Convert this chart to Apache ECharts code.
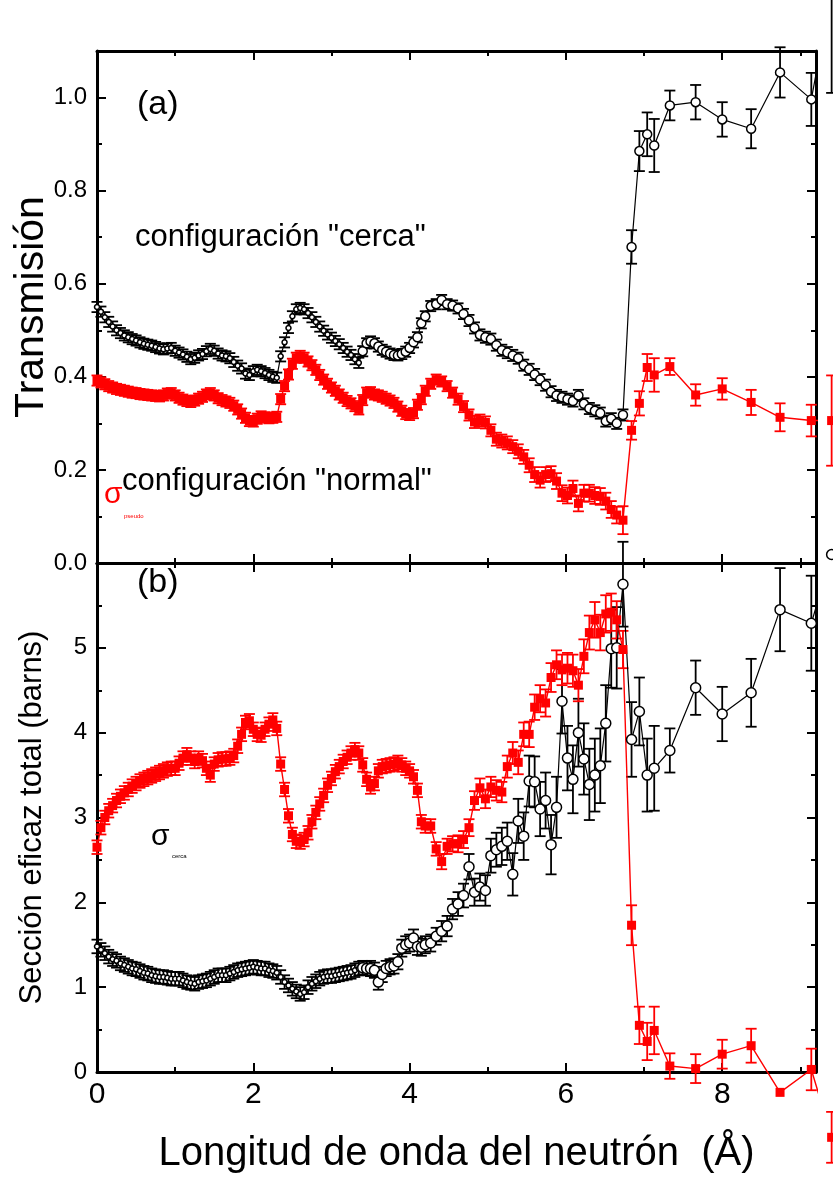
<!DOCTYPE html>
<html>
<head>
<meta charset="utf-8">
<script src="https://cdn.jsdelivr.net/npm/echarts@6/dist/echarts.min.js"></script>
<style>
html,body{margin:0;padding:0;background:#fff;}
#chart{width:833px;height:1187px;}
</style>
</head>
<body>
<div id="chart"></div>
<script>
// ---- wavelength (Å), three sampling regions ----
const wlA = [0.00,0.05,0.10,0.15,0.20,0.25,0.30,0.35,0.40,0.45,
             0.50,0.55,0.60,0.65,0.70,0.75,0.80,0.85,0.90,0.95,
             1.00,1.05,1.10,1.15,1.20,1.25,1.30,1.35,1.40,1.45,
             1.50,1.55,1.60,1.65,1.70,1.75,1.80,1.85,1.90,1.95,
             2.00,2.05,2.10,2.15,2.20,2.25,2.30,2.35,2.40,2.45,
             2.50,2.55,2.60,2.65,2.70,2.75,2.80,2.85,2.90,2.95,
             3.00,3.05,3.10,3.15,3.20,3.25,3.30,3.35,3.40,3.45,
             3.50,3.55,3.60,3.65,3.70,3.75,3.80,3.85,3.90,3.95,
             4.00,4.05,4.10,4.15,4.20];
const wlB = [4.27,4.34,4.41,4.48,4.55,4.62,4.69,4.76,4.83,4.90,
             4.97,5.04,5.11,5.18,5.25,5.32,5.39,5.46,5.53,5.60,
             5.67,5.74,5.81,5.88,5.95,6.02,6.09,6.16,6.23,6.30,
             6.37,6.44,6.51,6.58,6.65,6.73];
const wlC = [6.84,6.94,7.04,7.13,7.33,7.66,8.00,8.37,8.74,9.14,9.40];

// ---- (a) Transmission, configuración "cerca" ----
const trCercaA = [0.550,0.540,0.528,0.518,0.508,0.500,0.494,0.489,0.485,0.481,
                  0.478,0.474,0.471,0.469,0.467,0.464,0.461,0.459,0.461,0.462,
                  0.456,0.452,0.448,0.443,0.438,0.441,0.446,0.449,0.455,0.460,
                  0.456,0.450,0.446,0.444,0.440,0.432,0.424,0.418,0.407,0.404,
                  0.412,0.415,0.412,0.408,0.404,0.400,0.398,0.444,0.474,0.505,
                  0.530,0.545,0.548,0.545,0.537,0.528,0.518,0.508,0.499,0.491,
                  0.484,0.477,0.470,0.462,0.454,0.447,0.438,0.430,0.455,0.472,
                  0.476,0.472,0.465,0.458,0.454,0.450,0.447,0.446,0.449,0.454,
                  0.462,0.474,0.485,0.515,0.530];
const trCercaB = [0.552,0.556,0.565,0.556,0.553,0.547,0.535,0.521,0.505,0.490,
                  0.485,0.481,0.468,0.457,0.452,0.446,0.440,0.425,0.416,0.405,
                  0.394,0.382,0.368,0.360,0.356,0.352,0.348,0.360,0.342,0.332,
                  0.327,0.322,0.305,0.310,0.300,0.318];
const trCercaC = [0.679,0.885,0.921,0.897,0.983,0.990,0.953,0.933,1.054,0.996,1.230];
const errTrCercaA = [0.011,0.011,0.011,0.011,0.011,0.011,0.011,0.011,0.011,0.011,
                     0.011,0.011,0.011,0.011,0.011,0.011,0.011,0.011,0.011,0.011,
                     0.011,0.011,0.011,0.011,0.011,0.011,0.011,0.011,0.011,0.011,
                     0.011,0.011,0.011,0.011,0.011,0.011,0.011,0.011,0.011,0.011,
                     0.011,0.011,0.011,0.011,0.011,0.011,0.011,0.011,0.011,0.011,
                     0.011,0.011,0.011,0.011,0.011,0.011,0.011,0.011,0.011,0.011,
                     0.011,0.011,0.011,0.011,0.011,0.011,0.011,0.011,0.011,0.011,
                     0.011,0.011,0.011,0.011,0.011,0.011,0.011,0.011,0.011,0.011,
                     0.011,0.011,0.011,0.011,0.011];
const errTrCercaB = [0.011,0.011,0.011,0.011,0.011,0.011,0.011,0.012,0.012,0.012,
                     0.012,0.012,0.012,0.012,0.012,0.012,0.012,0.012,0.012,0.012,
                     0.012,0.012,0.012,0.012,0.012,0.012,0.012,0.012,0.012,0.012,
                     0.012,0.012,0.012,0.012,0.012,0.012];
const errTrCercaC = [0.036,0.043,0.047,0.057,0.032,0.037,0.037,0.042,0.054,0.057,0.220];

// ---- (a) Transmission, configuración "normal" ----
const trNormalA = [0.392,0.388,0.384,0.380,0.377,0.374,0.372,0.370,0.368,0.366,
                   0.365,0.363,0.362,0.361,0.360,0.359,0.358,0.360,0.364,0.365,
                   0.360,0.355,0.351,0.348,0.346,0.349,0.353,0.357,0.362,0.365,
                   0.360,0.354,0.350,0.347,0.344,0.338,0.330,0.321,0.312,0.305,
                   0.304,0.310,0.315,0.313,0.311,0.312,0.314,0.352,0.380,0.405,
                   0.428,0.441,0.445,0.441,0.433,0.425,0.415,0.404,0.394,0.385,
                   0.377,0.370,0.362,0.355,0.348,0.343,0.337,0.330,0.350,0.366,
                   0.367,0.362,0.360,0.357,0.353,0.349,0.344,0.336,0.327,0.320,
                   0.318,0.322,0.340,0.352,0.370];
const trNormalB = [0.385,0.394,0.390,0.380,0.366,0.352,0.336,0.318,0.303,0.306,
                   0.302,0.285,0.266,0.262,0.258,0.250,0.240,0.228,0.210,0.190,
                   0.178,0.190,0.192,0.176,0.150,0.145,0.160,0.128,0.150,0.150,
                   0.145,0.143,0.133,0.115,0.103,0.092];
const trNormalC = [0.285,0.343,0.420,0.404,0.422,0.361,0.374,0.345,0.313,0.306,0.306];
const errTrNormalA = [0.011,0.011,0.011,0.011,0.011,0.011,0.011,0.011,0.011,0.011,
                      0.011,0.011,0.011,0.011,0.011,0.011,0.011,0.011,0.011,0.011,
                      0.011,0.011,0.011,0.011,0.011,0.011,0.011,0.011,0.011,0.011,
                      0.011,0.011,0.011,0.011,0.011,0.011,0.011,0.011,0.011,0.011,
                      0.011,0.011,0.011,0.011,0.011,0.011,0.011,0.011,0.011,0.011,
                      0.011,0.011,0.011,0.011,0.011,0.011,0.011,0.011,0.011,0.011,
                      0.011,0.011,0.011,0.011,0.011,0.011,0.011,0.011,0.011,0.011,
                      0.011,0.011,0.011,0.011,0.011,0.011,0.011,0.011,0.011,0.011,
                      0.011,0.011,0.011,0.011,0.011];
const errTrNormalB = [0.011,0.011,0.011,0.011,0.011,0.012,0.012,0.012,0.013,0.013,
                      0.013,0.013,0.014,0.014,0.014,0.014,0.015,0.015,0.015,0.016,
                      0.016,0.016,0.016,0.017,0.017,0.017,0.017,0.017,0.018,0.018,
                      0.018,0.018,0.018,0.018,0.018,0.030];
const errTrNormalC = [0.020,0.026,0.029,0.036,0.018,0.023,0.023,0.027,0.030,0.034,0.097];

// ---- (b) Total cross section (barns), "cerca" ----
const sgCercaA = [1.48,1.44,1.40,1.36,1.33,1.31,1.28,1.26,1.24,1.22,
                  1.21,1.19,1.17,1.16,1.14,1.13,1.12,1.12,1.11,1.10,
                  1.10,1.10,1.08,1.06,1.05,1.04,1.06,1.07,1.08,1.10,
                  1.12,1.14,1.14,1.14,1.16,1.18,1.20,1.21,1.22,1.23,
                  1.24,1.23,1.22,1.22,1.20,1.19,1.17,1.12,1.06,1.02,
                  0.98,0.95,0.92,0.94,1.00,1.04,1.07,1.10,1.12,1.13,
                  1.13,1.14,1.15,1.16,1.17,1.18,1.20,1.22,1.23,1.22,
                  1.22,1.20,1.06,1.15,1.22,1.24,1.25,1.30,1.46,1.50,
                  1.52,1.58,1.48,1.47,1.50];
const sgCercaB = [1.52,1.60,1.66,1.72,1.92,1.98,2.08,2.42,2.12,2.18,
                  2.14,2.55,2.62,2.66,2.72,2.33,2.96,2.78,3.43,3.42,
                  3.10,3.20,2.68,3.12,4.37,3.70,3.45,4.00,3.69,3.39,
                  3.50,3.61,4.11,4.99,5.00,5.75];
const sgCercaC = [3.92,4.25,3.50,3.58,3.79,4.53,4.22,4.47,5.45,5.29,6.10];
const errSgCercaA = [0.08,0.08,0.08,0.08,0.08,0.08,0.08,0.08,0.08,0.08,
                     0.08,0.08,0.08,0.08,0.08,0.08,0.08,0.08,0.08,0.08,
                     0.08,0.08,0.08,0.08,0.08,0.08,0.08,0.08,0.08,0.08,
                     0.08,0.08,0.08,0.08,0.08,0.08,0.08,0.08,0.08,0.08,
                     0.08,0.08,0.08,0.08,0.08,0.08,0.08,0.08,0.08,0.08,
                     0.08,0.08,0.08,0.08,0.08,0.08,0.08,0.08,0.08,0.08,
                     0.08,0.08,0.08,0.08,0.08,0.08,0.08,0.08,0.08,0.08,
                     0.09,0.09,0.09,0.09,0.09,0.09,0.09,0.09,0.10,0.10,
                     0.10,0.10,0.10,0.10,0.10];
const errSgCercaB = [0.10,0.10,0.12,0.12,0.12,0.14,0.14,0.15,0.16,0.16,
                     0.18,0.20,0.20,0.22,0.22,0.25,0.26,0.28,0.30,0.30,
                     0.32,0.33,0.35,0.36,0.38,0.38,0.40,0.40,0.42,0.42,
                     0.43,0.44,0.45,0.46,0.48,0.50];
const errSgCercaC = [0.44,0.40,0.43,0.50,0.26,0.32,0.32,0.40,0.49,0.56,0];

// ---- (b) Total cross section (barns), "normal" ----
const sgNormalA = [2.65,2.88,3.00,3.08,3.14,3.20,3.25,3.29,3.33,3.37,
                   3.40,3.43,3.45,3.47,3.49,3.51,3.53,3.55,3.57,3.58,
                   3.58,3.64,3.70,3.74,3.70,3.66,3.70,3.67,3.58,3.50,
                   3.63,3.68,3.69,3.69,3.70,3.73,3.84,3.98,4.12,4.14,
                   4.04,3.98,3.97,4.04,4.10,4.15,4.05,3.63,3.33,3.02,
                   2.80,2.72,2.71,2.74,2.82,2.95,3.06,3.16,3.26,3.38,
                   3.46,3.54,3.60,3.66,3.71,3.76,3.80,3.76,3.62,3.45,
                   3.36,3.40,3.55,3.60,3.61,3.62,3.63,3.65,3.62,3.58,
                   3.55,3.48,3.32,2.95,2.90];
const sgNormalB = [2.90,2.63,2.48,2.66,2.69,2.69,2.74,2.88,3.20,3.35,
                   3.22,3.36,3.32,3.30,3.60,3.76,3.65,3.98,3.98,4.30,
                   4.40,4.35,4.65,4.80,4.74,4.76,4.73,4.56,4.90,5.18,
                   5.33,5.18,5.40,5.42,5.33,4.98];
const sgNormalC = [1.73,0.55,0.36,0.49,0.07,0.04,0.21,0.31,-0.24,0.03,-0.77];
const errSgNormalA = [0.08,0.08,0.08,0.08,0.08,0.08,0.08,0.08,0.08,0.08,
                      0.08,0.08,0.08,0.08,0.08,0.08,0.08,0.08,0.08,0.08,
                      0.08,0.08,0.08,0.08,0.08,0.08,0.08,0.08,0.08,0.08,
                      0.08,0.08,0.08,0.08,0.08,0.08,0.08,0.08,0.08,0.08,
                      0.08,0.08,0.08,0.08,0.08,0.08,0.08,0.08,0.08,0.08,
                      0.08,0.08,0.08,0.08,0.08,0.08,0.08,0.08,0.08,0.08,
                      0.08,0.08,0.08,0.08,0.08,0.08,0.08,0.08,0.08,0.08,
                      0.08,0.08,0.08,0.08,0.08,0.08,0.08,0.08,0.08,0.08,
                      0.08,0.08,0.08,0.08,0.08];
const errSgNormalB = [0.08,0.08,0.09,0.09,0.09,0.10,0.10,0.10,0.11,0.11,
                      0.11,0.12,0.12,0.12,0.13,0.13,0.14,0.14,0.15,0.15,
                      0.16,0.16,0.17,0.17,0.18,0.18,0.19,0.19,0.20,0.20,
                      0.21,0.21,0.22,0.22,0.22,0.22];
const errSgNormalC = [0.235,0.22,0.22,0.28,0.15,0.17,0.17,0.20,0,0.245,0.30];

// ---- axis ticks ----
const xTickLabels = ['0','2','4','6','8'];
const yTopTickLabels = ['0.0','0.2','0.4','0.6','0.8','1.0'];
const yBotTickLabels = ['0','1','2','3','4','5'];

// ---- build data ----
const wl = wlA.concat(wlB, wlC);
function build(a, b, c, ea, eb, ec) {
  const v = a.concat(b, c), e = ea.concat(eb, ec);
  return wl.map((x, i) => [x, v[i], e[i]]);
}
const dTrCerca = build(trCercaA, trCercaB, trCercaC, errTrCercaA, errTrCercaB, errTrCercaC);
const dTrNormal = build(trNormalA, trNormalB, trNormalC, errTrNormalA, errTrNormalB, errTrNormalC);
const dSgCerca = build(sgCercaA, sgCercaB, sgCercaC, errSgCercaA, errSgCercaB, errSgCercaC);
const dSgNormal = build(sgNormalA, sgNormalB, sgNormalC, errSgNormalA, errSgNormalB, errSgNormalC);

const FONT = '"Liberation Sans", Arial, sans-serif';
const chart = echarts.init(document.getElementById('chart'), null, {renderer: 'canvas'});

function errRender(color, cap, lw) {
  return function (params, api) {
    const x = api.value(0), y = api.value(1), e = api.value(2);
    if (!(e > 0)) return null;
    const hi = api.coord([x, y + e]);
    const lo = api.coord([x, y - e]);
    const hw = cap / 2;
    const st = {stroke: color, lineWidth: lw};
    return {type: 'group', children: [
      {type: 'line', shape: {x1: hi[0], y1: hi[1], x2: lo[0], y2: lo[1]}, style: st},
      {type: 'line', shape: {x1: hi[0] - hw, y1: hi[1], x2: hi[0] + hw, y2: hi[1]}, style: st},
      {type: 'line', shape: {x1: lo[0] - hw, y1: lo[1], x2: lo[0] + hw, y2: lo[1]}, style: st}
    ]};
  };
}

const axisLine = {show: true, onZero: false, lineStyle: {color: '#000', width: 3}};
const tick = {show: true, inside: true, length: 9, lineStyle: {color: '#000', width: 2}};
const minor = {show: true, length: 5, lineStyle: {color: '#000', width: 2}};

function xAx(grid, pos, labels) {
  return {
    type: 'value', gridIndex: grid, position: pos, min: 0, max: 9.2, interval: 2,
    axisLine: axisLine, axisTick: tick, minorTick: Object.assign({splitNumber: 2}, minor),
    splitLine: {show: false},
    axisLabel: labels ? {
      show: true, margin: 8, color: '#000', fontFamily: FONT, fontSize: 30,
      formatter: v => { const s = String(Math.round(v)); return (Math.abs(v - Math.round(v)) < 1e-6 && xTickLabels.indexOf(s) >= 0) ? s : ''; }
    } : {show: false}
  };
}
function yAx(grid, pos, max, interval, labelList, decimals, name, nameSize, nameGap) {
  return {
    type: 'value', gridIndex: grid, position: pos, min: 0, max: max, interval: interval,
    axisLine: axisLine, axisTick: tick, minorTick: Object.assign({splitNumber: 2}, minor),
    splitLine: {show: false},
    name: name || '', nameLocation: 'middle', nameGap: nameGap || 0, nameRotate: 90,
    nameMoveOverlap: false,
    nameTextStyle: {color: '#000', fontFamily: FONT, fontSize: nameSize || 12},
    axisLabel: labelList ? {
      show: true, margin: 10, color: '#000', fontFamily: FONT, fontSize: 24,
      formatter: v => { const s = v.toFixed(decimals); return labelList.indexOf(s) >= 0 ? s : ''; }
    } : {show: false}
  };
}

const xAxes = [xAx(0, 'bottom', false), xAx(0, 'top', false), xAx(1, 'bottom', true), xAx(1, 'top', false)];
xAxes[2].name = 'Longitud de onda del neutrón  (Å)';
xAxes[2].nameLocation = 'middle';
xAxes[2].nameGap = 62;
xAxes[2].nameMoveOverlap = false;
xAxes[2].nameTextStyle = {color: '#000', fontFamily: FONT, fontSize: 40};

const yAxes = [
  yAx(0, 'left', 1.1, 0.2, yTopTickLabels, 1, 'Transmisión', 41, 45),
  yAx(0, 'right', 1.1, 0.2, null, 1),
  yAx(1, 'left', 6, 1, yBotTickLabels, 0, 'Sección eficaz total (barns)', 31, 49),
  yAx(1, 'right', 6, 1, null, 0)
];

// symbols are drawn smaller where the measured points crowd together (< 3.4 Å)
function lineSeries(data, xi, yi, color, symbol, size, filled, lw, denseSize) {
  return {
    type: 'line', data: data.map(d => [d[0], d[1]]), xAxisIndex: xi, yAxisIndex: yi,
    symbol: symbol,
    symbolSize: denseSize ? (val => (val[0] < 3.4 ? denseSize : size)) : size,
    showSymbol: true, showAllSymbol: true, clip: false,
    lineStyle: {color: color, width: lw},
    itemStyle: filled ? {color: color, borderColor: color, borderWidth: 0}
                      : {color: '#fff', borderColor: color, borderWidth: 1.5},
    emphasis: {disabled: true}, z: 3, animation: false
  };
}
function errSeries(data, xi, yi, color) {
  return {
    type: 'custom', data: data, xAxisIndex: xi, yAxisIndex: yi, clip: false,
    renderItem: errRender(color, 11, 1.8), z: 2, animation: false, silent: true
  };
}

const option = {
  backgroundColor: '#fff',
  animation: false,
  grid: [
    {left: 97, right: 17, top: 51, height: 512, containLabel: false, outerBoundsMode: 'none'},
    {left: 97, right: 17, top: 563, height: 509, containLabel: false, outerBoundsMode: 'none'}
  ],
  xAxis: xAxes,
  yAxis: yAxes,
  series: [
    errSeries(dTrCerca, 0, 0, '#000'),
    lineSeries(dTrCerca, 0, 0, '#000', 'circle', 9, false, 1.2, 5),
    errSeries(dTrNormal, 0, 0, '#ff0000'),
    lineSeries(dTrNormal, 0, 0, '#ff0000', 'rect', 9, true, 1.4),
    errSeries(dSgCerca, 2, 2, '#000'),
    lineSeries(dSgCerca, 2, 2, '#000', 'circle', 10, false, 1.2, 5),
    errSeries(dSgNormal, 2, 2, '#ff0000'),
    lineSeries(dSgNormal, 2, 2, '#ff0000', 'rect', 9, true, 1.4)
  ],
  graphic: [
    {type: 'text', left: 137, top: 88, style: {text: '(a)', font: '34px ' + FONT, fill: '#000'}, z: 10},
    {type: 'text', left: 137, top: 566, style: {text: '(b)', font: '34px ' + FONT, fill: '#000'}, z: 10},
    {type: 'text', left: 135, top: 222, style: {text: 'configuración "cerca"', font: '31px ' + FONT, fill: '#000'}, z: 10},
    {type: 'text', left: 122, top: 466, style: {text: 'configuración "normal"', font: '31px ' + FONT, fill: '#000'}, z: 10},
    {type: 'text', left: 104, top: 480, style: {text: 'σ', font: '30px ' + FONT, fill: '#ff0000'}, z: 10},
    {type: 'text', left: 124, top: 513, style: {text: 'pseudo', font: '6px ' + FONT, fill: '#ff0000'}, z: 10},
    {type: 'text', left: 151, top: 822, style: {text: 'σ', font: '30px ' + FONT, fill: '#000'}, z: 10},
    {type: 'text', left: 172, top: 853, style: {text: 'cerca', font: '6px ' + FONT, fill: '#000'}, z: 10}
  ]
};
chart.setOption(option);
</script>
</body>
</html>
